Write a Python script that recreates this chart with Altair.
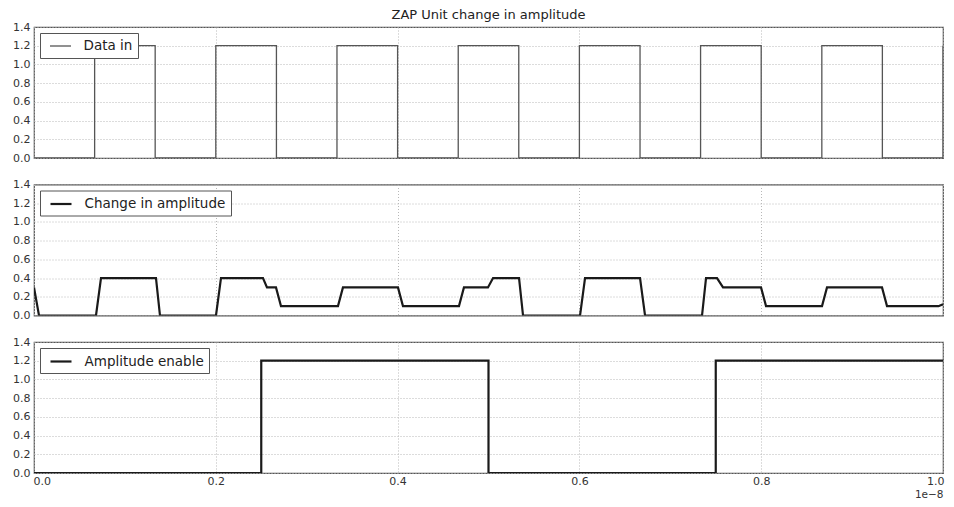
import altair as alt
import pandas as pd

# ---- data (time in units of 1e-8 s) ----
data_in_t = [0.0, 0.0667, 0.1333, 0.2, 0.2667, 0.3333, 0.4, 0.4667, 0.5333,
             0.6, 0.6667, 0.7333, 0.8, 0.8667, 0.9333, 1.0]
data_in_v = [0.0, 1.2, 0.0, 1.2, 0.0, 1.2, 0.0, 1.2, 0.0,
             1.2, 0.0, 1.2, 0.0, 1.2, 0.0, 1.2]

change_t = [0.0, 0.0055, 0.0682, 0.0737, 0.1342, 0.1386, 0.2002, 0.2057,
            0.2519, 0.2563, 0.2662, 0.2717, 0.3344, 0.3399, 0.4004, 0.4059,
            0.4675, 0.4730, 0.4994, 0.5050, 0.5336, 0.5380, 0.6007, 0.6062,
            0.6667, 0.6722, 0.7349, 0.7393, 0.7514, 0.7580, 0.7998, 0.8053,
            0.8669, 0.8724, 0.9329, 0.9384, 0.995, 1.0]
change_v = [0.3, 0.0, 0.0, 0.4, 0.4, 0.0, 0.0, 0.4,
            0.4, 0.3, 0.3, 0.1, 0.1, 0.3, 0.3, 0.1,
            0.1, 0.3, 0.3, 0.4, 0.4, 0.0, 0.0, 0.4,
            0.4, 0.0, 0.0, 0.4, 0.4, 0.3, 0.3, 0.1,
            0.1, 0.3, 0.3, 0.1, 0.1, 0.12]

enable_t = [0.0, 0.25, 0.5, 0.75, 1.0]
enable_v = [0.0, 1.2, 0.0, 1.2, 1.2]

y_ticks = [0.0, 0.2, 0.4, 0.6, 0.8, 1.0, 1.2, 1.4]
x_ticks = [0.0, 0.2, 0.4, 0.6, 0.8, 1.0]

title_text = "ZAP Unit change in amplitude"
x_offset_label = "1e\u22128"

FONT = "DejaVu Sans"
W, H = 909, 131


def panel(t, v, name, color, sw, interp, bottom=False):
    df = pd.DataFrame({"t": t, "v": v, "series": name})
    if bottom:
        xaxis = alt.Axis(values=x_ticks, format=".1f", title=x_offset_label,
                         titleAnchor="end", titleAlign="right",
                         titleFontWeight="normal", titleFontSize=10.5,
                         titleFont=FONT, titlePadding=3, labelPadding=2,
                         ticks=False, domain=False, labelFontSize=11,
                         labelFont=FONT, labelColor="#333", titleColor="#333",
                         labelFlush=True, labelFlushOffset=1)
    else:
        xaxis = alt.Axis(values=x_ticks, labels=False, ticks=False,
                         domain=False, title=None)
    return alt.Chart(df).mark_line(
        strokeWidth=sw, interpolate=interp, clip=True
    ).encode(
        x=alt.X("t:Q", scale=alt.Scale(domain=[0, 1], nice=False), axis=xaxis),
        y=alt.Y("v:Q", scale=alt.Scale(domain=[0, 1.4], nice=False),
                axis=alt.Axis(values=y_ticks, format=".1f", title=None,
                              ticks=False, domain=False, labelPadding=4,
                              labelFontSize=11, labelFont=FONT,
                              labelColor="#333")),
        color=alt.Color("series:N",
                        scale=alt.Scale(domain=[name], range=[color]),
                        legend=alt.Legend(orient="top-left", title=None,
                                          offset=6, symbolStrokeWidth=sw,
                                          symbolStrokeColor=color)),
        order=alt.Order("t:Q"),
    ).properties(width=W, height=H)


top = panel(data_in_t, data_in_v, "Data in", "#555555", 1.3, "step-after")
mid = panel(change_t, change_v, "Change in amplitude", "#1a1a1a", 2.2, "linear")
bot = panel(enable_t, enable_v, "Amplitude enable", "#1a1a1a", 2.2,
            "step-after", bottom=True)

chart = alt.vconcat(top, mid, bot, spacing=26.5, bounds="flush").resolve_scale(
    color="independent"
).properties(
    title=alt.TitleParams(title_text, fontSize=13, font=FONT,
                          fontWeight="normal", anchor="middle", offset=-2,
                          color="#222", frame="group"),
    padding={"left": 3, "top": 1, "right": 0, "bottom": 0},
).configure_view(
    stroke="#555555", strokeWidth=1.2
).configure_axis(
    gridColor="#b8b8b8", gridDash=[1, 2], gridWidth=1, grid=True
).configure_legend(
    fillColor="white", strokeColor="#555555", padding=5, cornerRadius=0,
    labelFontSize=13.5, labelFont=FONT, labelColor="#222",
    symbolType="M-1.5,0L1.5,0", symbolSize=196, symbolOffset=7.5,
    labelOffset=15, symbolFillColor="transparent"
)

chart.save("out.html", embed_options={"renderer": "svg", "actions": False})
